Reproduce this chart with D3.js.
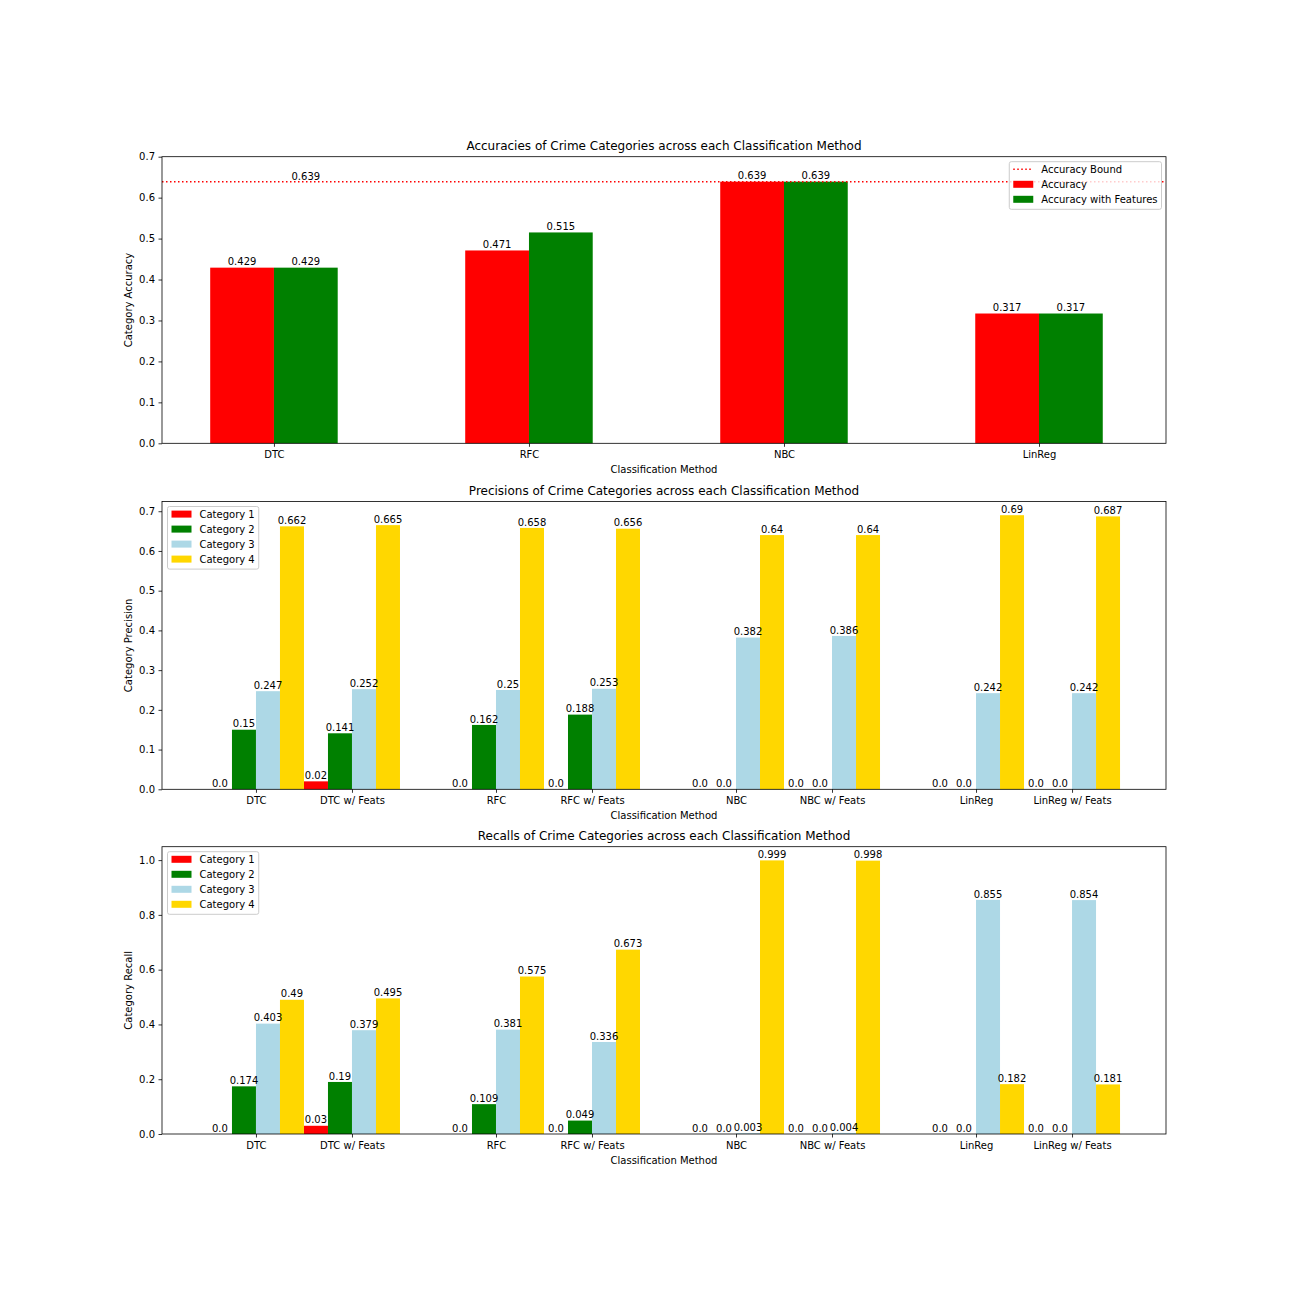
<!DOCTYPE html>
<html>
<head>
<meta charset="utf-8">
<script src="https://cdn.jsdelivr.net/npm/d3@7"></script>
<style>
  html, body { margin: 0; padding: 0; background: #fff; }
  svg text { font-family: "DejaVu Sans", sans-serif; fill: #000; }
</style>
</head>
<body>
<svg id="chart" width="1296" height="1296"></svg>
<script>
// ---------------- DATA ----------------
const accMethods = ["DTC", "RFC", "NBC", "LinReg"];
const accuracy = [0.429, 0.471, 0.639, 0.317];
const accuracyWithFeatures = [0.429, 0.515, 0.639, 0.317];
const accuracyBound = 0.639;
const accLegend = ["Accuracy Bound", "Accuracy", "Accuracy with Features"];

const methods = ["DTC", "DTC w/ Feats", "RFC", "RFC w/ Feats", "NBC", "NBC w/ Feats", "LinReg", "LinReg w/ Feats"];
const categories = ["Category 1", "Category 2", "Category 3", "Category 4"];

const precisionCat1 = [0.0, 0.02, 0.0, 0.0, 0.0, 0.0, 0.0, 0.0];
const precisionCat2 = [0.15, 0.141, 0.162, 0.188, 0.0, 0.0, 0.0, 0.0];
const precisionCat3 = [0.247, 0.252, 0.25, 0.253, 0.382, 0.386, 0.242, 0.242];
const precisionCat4 = [0.662, 0.665, 0.658, 0.656, 0.64, 0.64, 0.69, 0.687];

const recallCat1 = [0.0, 0.03, 0.0, 0.0, 0.0, 0.0, 0.0, 0.0];
const recallCat2 = [0.174, 0.19, 0.109, 0.049, 0.0, 0.0, 0.0, 0.0];
const recallCat3 = [0.403, 0.379, 0.381, 0.336, 0.003, 0.004, 0.855, 0.854];
const recallCat4 = [0.49, 0.495, 0.575, 0.673, 0.999, 0.998, 0.182, 0.181];

const accTicks = [0.0, 0.1, 0.2, 0.3, 0.4, 0.5, 0.6, 0.7];
const precisionTicks = [0.0, 0.1, 0.2, 0.3, 0.4, 0.5, 0.6, 0.7];
const recallTicks = [0.0, 0.2, 0.4, 0.6, 0.8, 1.0];

// ---------------- STYLE / LAYOUT ----------------
const accColors = ["red", "green"];
const catColors = ["#ff0000", "#008000", "#add8e6", "#ffd700"];
const L = 162, R = 1166;
const svg = d3.select("#chart");

function fmt(v) {
  const r = Math.round(v * 1000) / 1000;
  let s = String(r);
  if (s.indexOf(".") < 0) s += ".0";
  return s;
}
function tickFmt(v) { return d3.format(".1f")(v); }

function drawAxesDecor(g, x, y, top, bottom, tickVals, title, ylabel) {
  // y axis
  const ya = g.append("g").attr("transform", `translate(${L},0)`)
    .call(d3.axisLeft(y).tickValues(tickVals).tickFormat(tickFmt).tickSize(3.5).tickPadding(3.5));
  ya.select(".domain").remove();
  ya.selectAll(".tick line").attr("stroke", "#000").attr("stroke-width", 0.8);
  ya.selectAll(".tick text").attr("font-size", "10px").attr("font-family", "DejaVu Sans").attr("fill", "#000");

  g.append("text").attr("x", (L + R) / 2).attr("y", top - 6.5)
    .attr("text-anchor", "middle").attr("font-size", "12px").text(title);
  g.append("text").attr("x", (L + R) / 2).attr("y", bottom + 29.5)
    .attr("text-anchor", "middle").attr("font-size", "10px").text("Classification Method");
  g.append("text").attr("transform", `translate(131.5,${(top + bottom) / 2}) rotate(-90)`)
    .attr("text-anchor", "middle").attr("font-size", "10px").text(ylabel);
}

function drawXAxis(g, x, bottom, vals, labels) {
  const xa = g.append("g").attr("transform", `translate(0,${bottom})`)
    .call(d3.axisBottom(x).tickValues(vals).tickFormat((d, i) => labels[i]).tickSize(3.5).tickPadding(4));
  xa.select(".domain").remove();
  xa.selectAll(".tick line").attr("stroke", "#000").attr("stroke-width", 0.8);
  xa.selectAll(".tick text").attr("font-size", "10px").attr("font-family", "DejaVu Sans").attr("fill", "#000");
}

function drawFrame(g, top, bottom) {
  g.append("rect").attr("x", L).attr("y", top).attr("width", R - L).attr("height", bottom - top)
    .attr("fill", "none").attr("stroke", "#000").attr("stroke-width", 0.8);
}

function drawLegend(g, items, anchorX, anchorY, alignRight) {
  // items: [{label, type:'line'|'patch', color}]
  const lg = g.append("g");
  const texts = [];
  const tmp = lg.append("g");
  items.forEach(it => {
    const t = tmp.append("text").attr("font-size", "10px").text(it.label);
    texts.push(t.node().getComputedTextLength());
  });
  tmp.remove();
  const maxW = d3.max(texts);
  const boxW = 4 + 20 + 8 + maxW + 4;
  const boxH = 7.6 + (items.length - 1) * 15 + 10;
  const bx = alignRight ? anchorX - boxW : anchorX;
  const by = anchorY;
  lg.append("rect").attr("x", bx).attr("y", by).attr("width", boxW).attr("height", boxH)
    .attr("rx", 2).attr("ry", 2)
    .attr("fill", "#fff").attr("fill-opacity", 0.8).attr("stroke", "#cccccc").attr("stroke-width", 1);
  items.forEach((it, i) => {
    const cy = by + 7.6 + i * 15;
    if (it.type === "line") {
      lg.append("line").attr("x1", bx + 4).attr("x2", bx + 24).attr("y1", cy).attr("y2", cy)
        .attr("stroke", it.color).attr("stroke-width", 1.5).attr("stroke-dasharray", "1.5,2.5");
    } else {
      lg.append("rect").attr("x", bx + 4).attr("y", cy - 3.5).attr("width", 20).attr("height", 7)
        .attr("fill", it.color);
    }
    lg.append("text").attr("x", bx + 32).attr("y", cy + 3.6).attr("font-size", "10px").text(it.label);
  });
}

// ---------------- PANEL 1: Accuracy ----------------
(function () {
  const top = 156.7, bottom = 443.3;
  const g = svg.append("g");
  const x = d3.scaleLinear().domain([-0.439, 3.498]).range([L, R]);
  const y = d3.scaleLinear().domain([0, 0.7]).range([bottom, top]);
  const bw = 0.25;
  const series = [accuracy, accuracyWithFeatures];
  const offsets = [-0.125, 0.125];
  series.forEach((vals, s) => {
    g.selectAll(null).data(vals).enter().append("rect")
      .attr("x", (d, i) => x(i + offsets[s] - bw / 2))
      .attr("width", x(bw) - x(0))
      .attr("y", d => y(d))
      .attr("height", d => y(0) - y(d))
      .attr("fill", accColors[s]);
    g.selectAll(null).data(vals).enter().append("text")
      .attr("x", (d, i) => x(i + offsets[s]))
      .attr("y", d => y(d) - 2.3)
      .attr("text-anchor", "middle").attr("font-size", "10px")
      .text(d => fmt(d));
  });
  // accuracy bound
  g.append("line").attr("x1", L).attr("x2", R).attr("y1", y(accuracyBound)).attr("y2", y(accuracyBound))
    .attr("stroke", "red").attr("stroke-width", 1.5).attr("stroke-dasharray", "1.5,2.5");
  g.append("text").attr("x", x(0.125)).attr("y", y(accuracyBound) - 1.8)
    .attr("text-anchor", "middle").attr("font-size", "10px").text(fmt(accuracyBound));

  drawXAxis(g, x, bottom, accMethods.map((d, i) => i), accMethods);
  drawAxesDecor(g, x, y, top, bottom, accTicks,
    "Accuracies of Crime Categories across each Classification Method", "Category Accuracy");
  drawFrame(g, top, bottom);
  drawLegend(g, [
    { label: accLegend[0], type: "line", color: "red" },
    { label: accLegend[1], type: "patch", color: accColors[0] },
    { label: accLegend[2], type: "patch", color: accColors[1] }
  ], R - 4.5, top + 5, true);
})();

// ---------------- PANELS 2 & 3: Precision / Recall ----------------
function catPanel(top, bottom, seriesList, ticks, title, ylabel) {
  const g = svg.append("g");
  const pos = methods.map((m, i) => Math.floor(i / 2) * 2 + (i % 2) * 0.8);
  const bw = 0.2;
  const offsets = [-0.3, -0.1, 0.1, 0.3];
  const allVals = seriesList.flat();
  const ymax = d3.max(allVals) * 1.05;
  const x = d3.scaleLinear().domain([-0.783, 7.583]).range([L, R]);
  const y = d3.scaleLinear().domain([0, ymax]).range([bottom, top]);
  seriesList.forEach((vals, s) => {
    g.selectAll(null).data(vals).enter().append("rect")
      .attr("x", (d, i) => x(pos[i] + offsets[s] - bw / 2))
      .attr("width", x(bw) - x(0))
      .attr("y", d => y(d))
      .attr("height", d => y(0) - y(d))
      .attr("fill", catColors[s]);
  });
  seriesList.forEach((vals, s) => {
    g.selectAll(null).data(vals).enter().append("text")
      .attr("x", (d, i) => x(pos[i] + offsets[s]))
      .attr("y", d => y(d) - 2.3)
      .attr("text-anchor", "middle").attr("font-size", "10px")
      .text(d => fmt(d));
  });
  drawXAxis(g, x, bottom, pos, methods);
  drawAxesDecor(g, x, y, top, bottom, ticks, title, ylabel);
  drawFrame(g, top, bottom);
  drawLegend(g, categories.map((c, i) => ({ label: c, type: "patch", color: catColors[i] })),
    L + 5.5, top + 5, false);
}

catPanel(501.5, 789.3, [precisionCat1, precisionCat2, precisionCat3, precisionCat4], precisionTicks,
  "Precisions of Crime Categories across each Classification Method", "Category Precision");
catPanel(846.7, 1134, [recallCat1, recallCat2, recallCat3, recallCat4], recallTicks,
  "Recalls of Crime Categories across each Classification Method", "Category Recall");
</script>
</body>
</html>
